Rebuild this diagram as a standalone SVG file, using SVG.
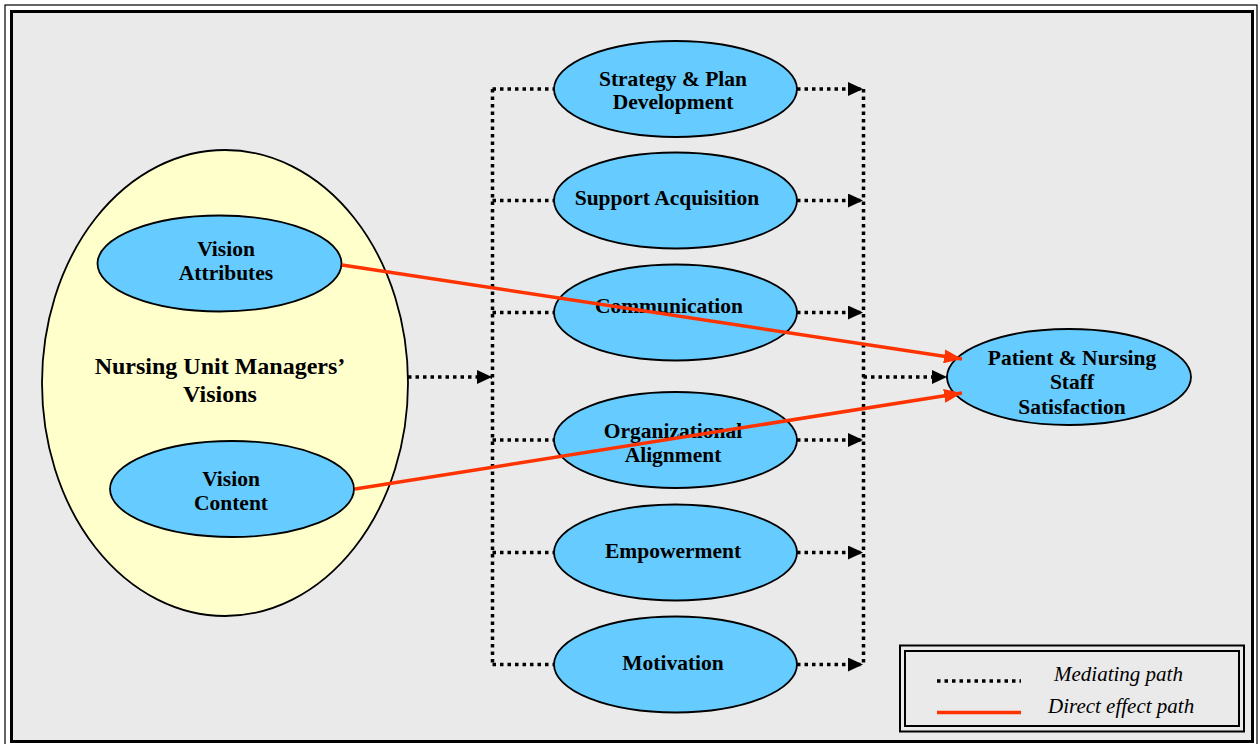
<svg xmlns="http://www.w3.org/2000/svg" width="1260" height="744" viewBox="0 0 1260 744">
<defs>
<style>
.frame{fill:none;stroke:#000}
.node{fill:#66CCFF;stroke:#000;stroke-width:1.8}
.big{fill:#FFFFCC;stroke:#000;stroke-width:1.8}
.lbl{font-family:"Liberation Serif","Times New Roman",serif;font-weight:bold;font-size:21.5px;fill:#000;text-anchor:middle}
.lbl2{font-family:"Liberation Serif","Times New Roman",serif;font-weight:bold;font-size:24px;fill:#000;text-anchor:middle}
.leg{font-family:"Liberation Serif","Times New Roman",serif;font-style:italic;font-size:21px;fill:#000}
.dot{fill:none;stroke:#000;stroke-width:3.5;stroke-dasharray:3.5 4}
.red{fill:none;stroke:#FF3300;stroke-width:3.5}
</style>
<marker id="ah" viewBox="0 0 15 14" refX="15" refY="7" markerWidth="15" markerHeight="14" markerUnits="userSpaceOnUse" orient="auto">
<path d="M0,0 L15,7 L0,14 z" fill="#000"/>
</marker>
<marker id="ahr" viewBox="0 0 18 14" refX="18" refY="7" markerWidth="18" markerHeight="14" markerUnits="userSpaceOnUse" orient="auto">
<path d="M0,0 L18,7 L0,14 z" fill="#FF3300"/>
</marker>
</defs>
<rect x="0" y="0" width="1260" height="744" fill="#FFFFFF"/>
<rect x="5" y="5" width="1252" height="745" class="frame" stroke-width="1.2"/>
<rect x="11.5" y="11.5" width="1241" height="730" fill="#EAEAEA" stroke="#000" stroke-width="3"/>

<g id="managers-visions">
<ellipse class="big" cx="225" cy="383" rx="183" ry="233"/>
<text class="lbl2" x="220" y="374">Nursing Unit Managers’</text>
<text class="lbl2" x="220" y="402">Visions</text>
</g>
<g id="vision-attributes">
<ellipse class="node" cx="219.5" cy="263.5" rx="122" ry="48"/>
<text class="lbl" x="226" y="256">Vision</text>
<text class="lbl" x="226" y="280">Attributes</text>
</g>
<g id="vision-content">
<ellipse class="node" cx="232" cy="489" rx="122" ry="48"/>
<text class="lbl" x="231" y="486">Vision</text>
<text class="lbl" x="231" y="510">Content</text>
</g>
<g id="strategy">
<ellipse class="node" cx="675.5" cy="89" rx="121.5" ry="48"/>
<text class="lbl" x="673" y="86">Strategy &amp; Plan</text>
<text class="lbl" x="673" y="109">Development</text>
</g>
<g id="support">
<ellipse class="node" cx="675.5" cy="200.5" rx="121.5" ry="48"/>
<text class="lbl" x="667" y="205">Support Acquisition</text>
</g>
<g id="communication">
<ellipse class="node" cx="675.5" cy="312.5" rx="121.5" ry="48"/>
<text class="lbl" x="669" y="313">Communication</text>
</g>
<g id="alignment">
<ellipse class="node" cx="675.5" cy="440" rx="121.5" ry="48"/>
<text class="lbl" x="673" y="438">Organizational</text>
<text class="lbl" x="673" y="462">Alignment</text>
</g>
<g id="empowerment">
<ellipse class="node" cx="675.5" cy="552.5" rx="121.5" ry="48"/>
<text class="lbl" x="673" y="558">Empowerment</text>
</g>
<g id="motivation">
<ellipse class="node" cx="675.5" cy="664.5" rx="121.5" ry="48"/>
<text class="lbl" x="673" y="670">Motivation</text>
</g>
<g id="satisfaction">
<ellipse class="node" cx="1069" cy="377" rx="122" ry="48"/>
<text class="lbl" x="1072" y="365">Patient &amp; Nursing</text>
<text class="lbl" x="1072" y="389">Staff</text>
<text class="lbl" x="1072" y="414">Satisfaction</text>
</g>

<g id="connectors">
<path class="dot" d="M408,377 H492" marker-end="url(#ah)"/>
<path class="dot" d="M492.5,89 V664.5"/>
<path class="dot" d="M492.5,89 H554"/>
<path class="dot" d="M492.5,200.5 H554"/>
<path class="dot" d="M492.5,312.5 H554"/>
<path class="dot" d="M492.5,440 H554"/>
<path class="dot" d="M492.5,552.5 H554"/>
<path class="dot" d="M492.5,664.5 H554"/>
<path class="dot" d="M797,89 H863" marker-end="url(#ah)"/>
<path class="dot" d="M797,200.5 H863" marker-end="url(#ah)"/>
<path class="dot" d="M797,312.5 H863" marker-end="url(#ah)"/>
<path class="dot" d="M797,440 H863" marker-end="url(#ah)"/>
<path class="dot" d="M797,552.5 H863" marker-end="url(#ah)"/>
<path class="dot" d="M797,664.5 H863" marker-end="url(#ah)"/>
<path class="dot" d="M863.5,89 V664.5"/>
<path class="dot" d="M863.5,377 H947" marker-end="url(#ah)"/>
<path class="red" d="M342,265 L962,359" marker-end="url(#ahr)"/>
<path class="red" d="M355,489 L962,393" marker-end="url(#ahr)"/>
</g>

<g id="legend">
<rect x="900" y="645.5" width="344" height="86" fill="none" stroke="#000" stroke-width="2"/>
<rect x="905" y="651" width="334" height="75" fill="none" stroke="#000" stroke-width="2"/>
<path class="dot" d="M937,681 H1021"/>
<path d="M937,712.5 H1021" stroke="#FF3300" stroke-width="3.5"/>
<text class="leg" x="1054" y="681">Mediating path</text>
<text class="leg" x="1048" y="713">Direct effect path</text>
</g>
</svg>
